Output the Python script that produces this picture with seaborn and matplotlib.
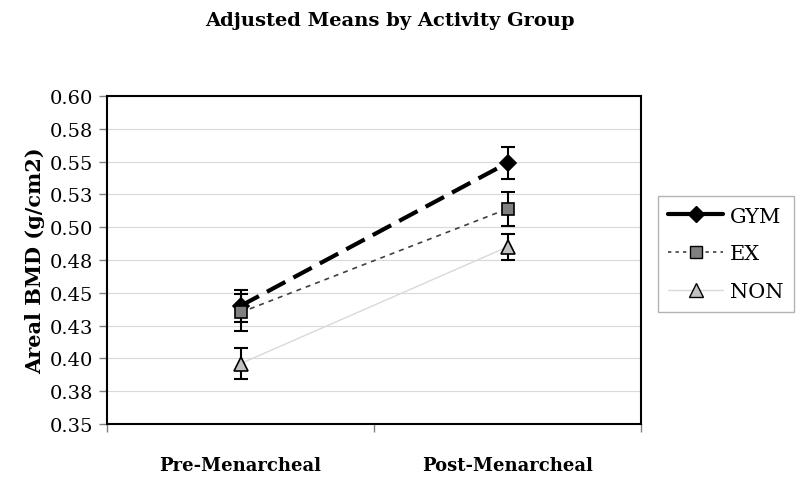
import numpy as np
import pandas as pd
import matplotlib
matplotlib.use("Agg")
import matplotlib.pyplot as plt
from matplotlib.lines import Line2D
import seaborn as sns

categories = ["Pre-Menarcheal", "Post-Menarcheal"]
groups = ["GYM", "EX", "NON"]
gym_means = [0.440, 0.549]
ex_means = [0.435, 0.514]
non_means = [0.396, 0.485]
gym_err = [0.012, 0.012]
ex_err = [0.014, 0.013]
non_err = [0.012, 0.010]
yticks = [0.35, 0.375, 0.40, 0.425, 0.45, 0.475, 0.50, 0.525, 0.55, 0.575, 0.60]
ytick_labels = ["0.35", "0.38", "0.40", "0.43", "0.45", "0.48", "0.50", "0.53", "0.55", "0.58", "0.60"]

sns.set_style("white")
plt.rcParams["font.family"] = ["DejaVu Serif", "Liberation Serif"]
plt.rcParams["text.color"] = "black"
plt.rcParams["axes.labelcolor"] = "black"
plt.rcParams["xtick.labelcolor"] = "black"
plt.rcParams["ytick.labelcolor"] = "black"

rows = []
for g, m, e in zip(groups, [gym_means, ex_means, non_means], [gym_err, ex_err, non_err]):
    for i, c in enumerate(categories):
        rows.append({"group": g, "cat": c, "pos": i + 0.5, "mean": m[i], "err": e[i]})
df = pd.DataFrame(rows)

fig = plt.figure(figsize=(8, 4.89), dpi=100)
ax = fig.add_axes([107/800, 1-425/489, (641-107)/800, (425-97)/489])

styles = {
    "GYM": dict(color="black", lw=3.0, ls=(0, (5, 2.2)), marker="D", mfc="black", mec="black", ms=8),
    "EX": dict(color="#404040", lw=1.2, ls=(0, (3, 3)), marker="s", mfc="#808080", mec="black", ms=9),
    "NON": dict(color="#d9d9d9", lw=1.0, ls="-", marker="^", mfc="#c0c0c0", mec="black", ms=10),
}

for g in groups:
    sub = df[df["group"] == g]
    st = styles[g]
    sns.lineplot(data=sub, x="pos", y="mean", ax=ax, color=st["color"], lw=st["lw"],
                 linestyle=st["ls"], legend=False, zorder=2)
    ax.errorbar(sub["pos"], sub["mean"], yerr=sub["err"], fmt="none", ecolor="black",
                elinewidth=1.5, capsize=5, capthick=1.5, zorder=3)
    ax.plot(sub["pos"], sub["mean"], ls="none", marker=st["marker"], mfc=st["mfc"],
            mec=st["mec"], ms=st["ms"], mew=1.2, zorder=4)

ax.set_xlim(0, 2)
ax.set_ylim(0.35, 0.60)
ax.set_yticks(yticks)
ax.set_yticklabels(ytick_labels)
ax.yaxis.grid(True, color="#d9d9d9", lw=0.8)
ax.set_axisbelow(True)

ax.set_xticks([0, 1, 2])
ax.set_xticklabels([])
ax.set_xticks([0.5, 1.5], minor=True)
ax.set_xticklabels(categories, minor=True, fontsize=13, fontweight="bold")
ax.tick_params(axis="x", which="minor", length=0, pad=23)
ax.tick_params(axis="x", which="major", direction="out", length=6, width=1, color="#808080", bottom=True)
ax.tick_params(axis="y", direction="out", length=6, width=1, color="#808080", left=True, labelsize=14, pad=4)

for s in ax.spines.values():
    s.set_color("black")
    s.set_linewidth(1.5)

ax.set_xlabel("")
ax.set_ylabel("Areal BMD (g/cm2)", fontsize=15, fontweight="bold", labelpad=3)
fig.text(390/800, 1-21/489, "Adjusted Means by Activity Group", ha="center", va="center",
         fontsize=14, fontweight="bold")

handles = [
    Line2D([], [], color="black", lw=3.0, ls="-", marker="D", mfc="black", mec="black", ms=8),
    Line2D([], [], color="#404040", lw=1.2, ls=(0, (2, 2.5)), marker="s", mfc="#808080", mec="black", ms=9),
    Line2D([], [], color="#d9d9d9", lw=1.0, ls="-", marker="^", mfc="#c0c0c0", mec="black", ms=10),
]
leg = fig.legend(handles, groups, loc="center left", bbox_to_anchor=(658/800, 1-255/489),
                 fontsize=15, frameon=True, fancybox=False, edgecolor="#a0a0a0",
                 handlelength=2.6, handletextpad=0.35, labelspacing=0.9, borderpad=0.5,
                 borderaxespad=0)
leg.get_frame().set_linewidth(1.0)

fig.savefig("out.png", dpi=100)
